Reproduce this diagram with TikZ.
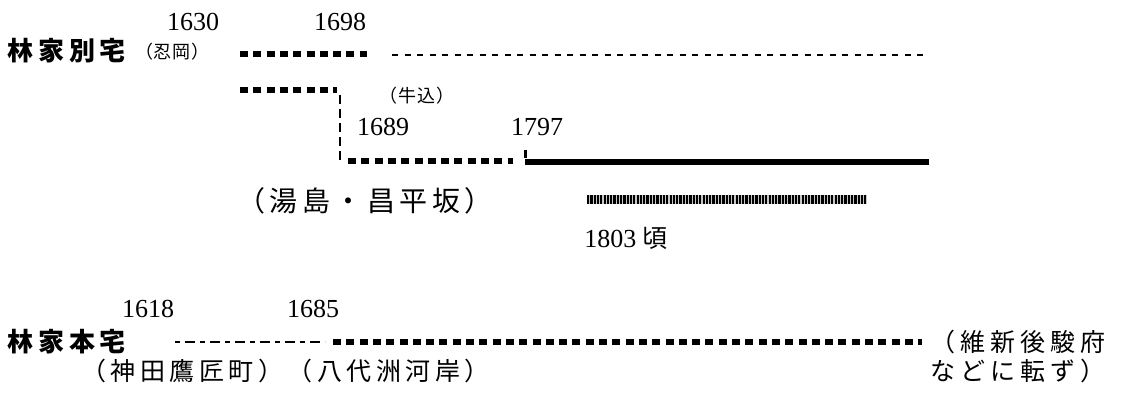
\documentclass[tikz,border=0pt]{standalone}
\usepackage{fontspec}
\setmainfont{Liberation Serif}
\newfontfamily\jpT[LetterSpace=19]{Noto Sans CJK JP}
\newfontfamily\jpS[LetterSpace=4]{Noto Sans CJK JP}
\newfontfamily\jpM[LetterSpace=18]{Noto Sans CJK JP}
\newfontfamily\jpR[LetterSpace=20]{Noto Sans CJK JP}
\newfontfamily\jpL[LetterSpace=16]{Noto Sans CJK JP}
\newfontfamily\jp{Noto Sans CJK JP}
\begin{document}
\begin{tikzpicture}[x=1pt,y=-1pt,
  year/.style={font=\fontsize{26}{26}\selectfont, inner sep=0pt},
  titletext/.style={font=\jpT\bfseries\fontsize{26}{26}\selectfont, inner sep=0pt, anchor=west},
  smalltext/.style={font=\jpS\fontsize{18}{18}\selectfont, inner sep=0pt},
  placetext/.style={font=\jpM\fontsize{25}{29}\selectfont, inner sep=0pt},
  righttext/.style={font=\jpR\fontsize{25}{29}\selectfont, inner sep=0pt},
  bigplace/.style={font=\jpL\fontsize{28}{28}\selectfont, inner sep=0pt},
  heavy/.style={line width=5.5pt, dash pattern=on 8pt off 5.3pt},
  thindash/.style={line width=2.5pt, dash pattern=on 6pt off 6.5pt},
  vdash/.style={line width=2.5pt, dash pattern=on 9pt off 5pt},
  dashdot/.style={line width=2.5pt, dash pattern=on 5pt off 5pt on 10pt off 5pt},
  solidbar/.style={line width=6pt},
  tick/.style={line width=3pt}
]
\useasboundingbox (0,0) rectangle (1131,392);

% texts
\node[year] (y1630) at (193,22) {1630};
\node[year] (y1698) at (340,22) {1698};
\node[titletext] (bt) at (7,51) {林家別宅};
\node[smalltext, anchor=west] (sh) at (135,52) {（忍岡）};
\node[smalltext] (ug) at (417,96) {（牛込）};
\node[year] (y1689) at (383,127) {1689};
\node[year] (y1797) at (537,127) {1797};
\node[bigplace] (yu) at (365,201) {（湯島・昌平坂）};
\node[year] (y1803) at (626,238) {1803 {\jp\fontsize{25}{25}\selectfont 頃}};
\node[year] (y1618) at (148,309) {1618};
\node[year] (y1685) at (313,309) {1685};
\node[titletext] (ht) at (7,342) {林家本宅};
\node[placetext, anchor=west] (kd) at (81,371) {（神田鷹匠町）（八代洲河岸）};
\node[righttext, anchor=west, align=left] (im) at (930,356) {（維新後駿府\\などに転ず）};

% coordinates
\coordinate (a1) at (240,54);  \coordinate (a2) at (367,54);
\coordinate (t1) at (392,55);  \coordinate (t2) at (923,55);
\coordinate (b1) at (240,90);  \coordinate (b2) at (337,90);
\coordinate (v1) at (340,95);  \coordinate (v2) at (340,162);
\coordinate (c1) at (348,161); \coordinate (c2) at (513,161);
\coordinate (k1) at (525,150); \coordinate (k2) at (525,158);
\coordinate (s1) at (525,161.5); \coordinate (s2) at (929,161.5);
\coordinate (d1) at (175,342); \coordinate (d2) at (325,342);
\coordinate (e1) at (333,342); \coordinate (e2) at (922,342);

% lines
\draw[heavy] (a1) -- (a2);
\draw[thindash] (t1) -- (t2);
\draw[heavy] (b1) -- (b2);
\draw[vdash] (v1) -- (v2);
\draw[heavy] (c1) -- (c2);
\draw[tick] (k1) -- (k2);
\draw[solidbar] (s1) -- (s2);
\fill[gray!45] (587,195) rectangle (867,204);
\draw[line width=9pt, dash pattern=on 2.2pt off 1.1pt] (587,199.5) -- (867,199.5);
\draw[dashdot] (d1) -- (d2);
\draw[heavy] (e1) -- (e2);
\end{tikzpicture}
\end{document}
